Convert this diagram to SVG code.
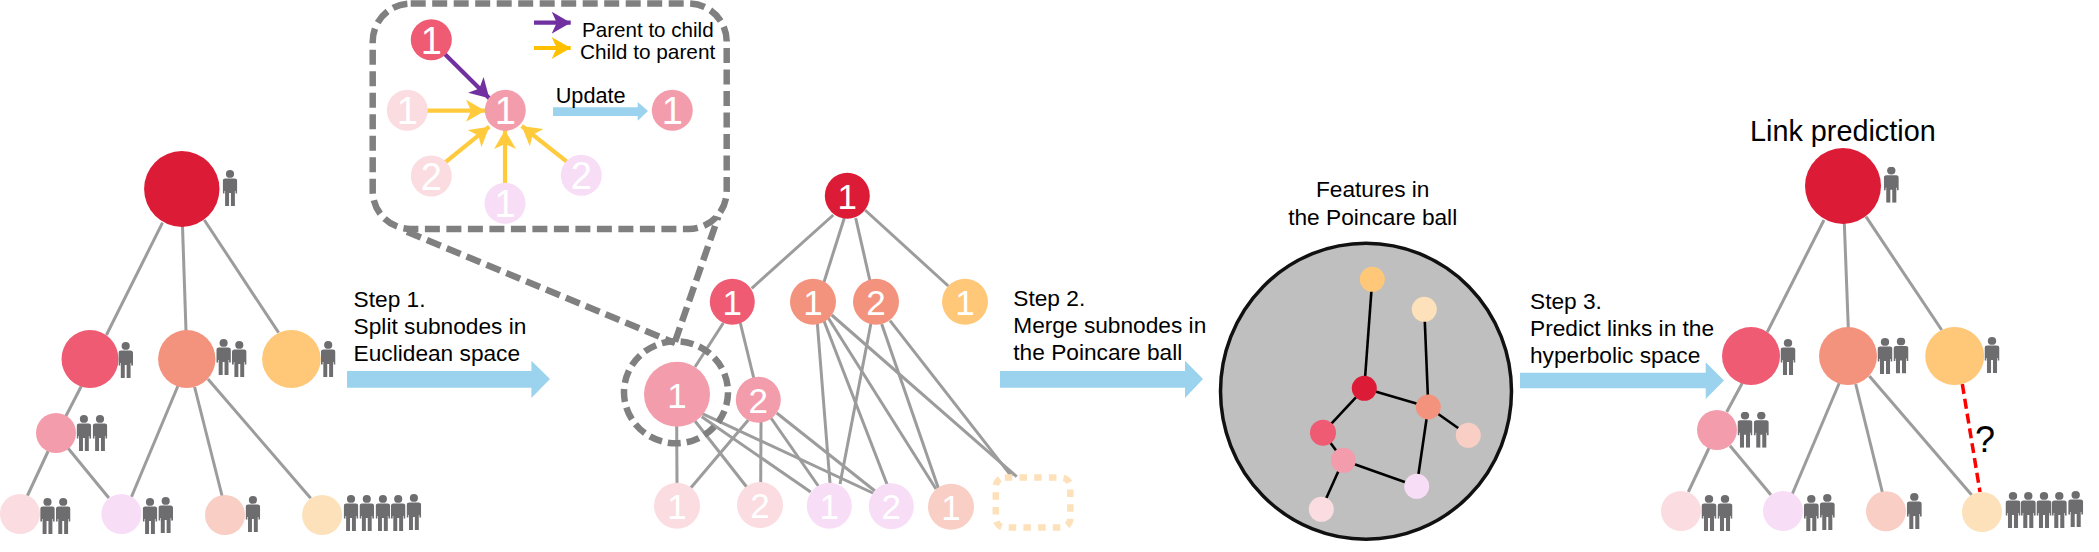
<svg xmlns="http://www.w3.org/2000/svg" width="2099" height="552" viewBox="0 0 2099 552">
<style>
text{font-family:"Liberation Sans",Arial,sans-serif;fill:#000}
.t{font-size:22.7px}
.d{fill:#fff;text-anchor:middle;font-size:35px}
.di{fill:#fff;text-anchor:middle;font-size:38px}
.e line{stroke:#9c9c9c;stroke-width:3}
.b line{stroke:#000;stroke-width:2.6}
.g{stroke:#FFCB3D;stroke-width:4.2;fill:none}
.dash{stroke:#808080;stroke-width:6.5;fill:none;stroke-dasharray:15 6.5}
.a{fill:#9BD3EE}
.c1{fill:#DC1C36}.c2{fill:#EE5B73}.c3{fill:#F4937D}.c4{fill:#FFC778}.c5{fill:#F39DAC}.c6{fill:#FBDDE1}.c7{fill:#F8DDF7}.c8{fill:#F9CEC4}.c9{fill:#FDE1BA}
</style>
<defs>
<symbol id="p" viewBox="0 0 14 36" preserveAspectRatio="none"><circle cx="7" cy="3.9" r="3.9" fill="#6D6D6F"/><path fill="#6D6D6F" d="M2.5 8.6h9q2.5 0 2.5 2.5v12.4h-1.7v-2.5h-.6v15h-3.8v-13h-1.8v13h-3.8v-15h-.6v2.5h-1.7v-12.4q0-2.5 2.5-2.5z"/></symbol>
<marker id="mp" markerUnits="userSpaceOnUse" markerWidth="20" markerHeight="22" refX="19" refY="11" orient="auto"><path d="M0 0L19 11L0 22L5 11z" fill="#7030A0"/></marker>
<marker id="my" markerUnits="userSpaceOnUse" markerWidth="20" markerHeight="22" refX="19" refY="11" orient="auto"><path d="M0 0L19 11L0 22L5 11z" fill="#FFC000"/></marker>
<marker id="mg" markerUnits="userSpaceOnUse" markerWidth="20" markerHeight="22" refX="19" refY="11" orient="auto"><path d="M0 0L19 11L0 22L5 11z" fill="#FFCB3D"/></marker>
</defs>

<g id="ball-disc"><ellipse cx="1366" cy="391.3" rx="145.5" ry="148" fill="#BFBFBF" stroke="#111" stroke-width="3.5"/></g>

<g id="connectors">
<g class="e">
<line x1="162.5" y1="222.7" x2="106.4" y2="335"/><line x1="182.5" y1="226" x2="186" y2="331"/><line x1="204.3" y1="220" x2="278.6" y2="332.7"/>
<line x1="81.4" y1="386" x2="65.4" y2="417"/><line x1="48.2" y1="451" x2="26.8" y2="497"/><line x1="67.9" y1="448" x2="108.9" y2="498"/>
<line x1="177.9" y1="386" x2="131.4" y2="497"/><line x1="194.6" y1="387" x2="222.1" y2="496"/><line x1="207.9" y1="379" x2="310.7" y2="498.3"/>

<line x1="833.3" y1="215" x2="751.7" y2="288.3"/><line x1="844.3" y1="218" x2="824" y2="282"/><line x1="855.7" y1="218" x2="870" y2="281"/><line x1="865" y1="210" x2="948.3" y2="286"/>
<line x1="723.3" y1="323" x2="695" y2="367"/><line x1="740.3" y1="323" x2="754" y2="379"/>
<line x1="676.7" y1="426" x2="677" y2="484"/><line x1="695" y1="421" x2="746.7" y2="487"/><line x1="701.7" y1="416.7" x2="810.7" y2="492"/><line x1="701.7" y1="413.3" x2="875" y2="494"/>
<line x1="748.3" y1="420" x2="690.7" y2="488"/><line x1="761" y1="422" x2="760.7" y2="483"/><line x1="771" y1="418" x2="818.3" y2="486"/><line x1="776.7" y1="413" x2="875" y2="491"/>
<line x1="817.3" y1="323" x2="830" y2="483"/><line x1="824" y1="321" x2="887.3" y2="485"/><line x1="828.3" y1="318" x2="936" y2="489"/><line x1="831.7" y1="315" x2="1016.7" y2="476.7"/>
<line x1="871" y1="323" x2="840" y2="484"/><line x1="881.7" y1="324" x2="938.3" y2="488"/><line x1="890" y1="320.7" x2="1011.7" y2="476.7"/>

<line x1="1824" y1="220" x2="1767.3" y2="332"/><line x1="1844.3" y1="223" x2="1848.3" y2="328"/><line x1="1866" y1="216.7" x2="1941.7" y2="330"/>
<line x1="1742.3" y1="383" x2="1726.7" y2="412"/><line x1="1709" y1="448" x2="1688.3" y2="492"/><line x1="1730" y1="445.7" x2="1771" y2="495"/>
<line x1="1839.3" y1="383" x2="1792.3" y2="494"/><line x1="1855.7" y1="384" x2="1882.3" y2="492"/><line x1="1869.3" y1="376" x2="1971.7" y2="495"/>
</g>
<line x1="1962.3" y1="384" x2="1980" y2="492" stroke="#F00" stroke-width="3.5" stroke-dasharray="10 5"/>
<g class="b">
<line x1="1372.3" y1="279" x2="1364.3" y2="388"/><line x1="1424.3" y1="309" x2="1428.3" y2="407"/><line x1="1364.3" y1="388.3" x2="1428.3" y2="407"/>
<line x1="1428.3" y1="407" x2="1468.3" y2="435.3"/><line x1="1364.3" y1="388.3" x2="1323" y2="432.7"/><line x1="1323" y1="432.7" x2="1343.3" y2="460.3"/>
<line x1="1343.3" y1="460.3" x2="1416.7" y2="486.3"/><line x1="1428.3" y1="407" x2="1416.7" y2="486.3"/><line x1="1343.3" y1="460.3" x2="1321.3" y2="509.3"/>
</g>
<path class="dash" d="M407 231.7L675 343"/>
<path class="dash" d="M675 341.7L718.3 216.7"/>
<rect class="dash" x="372.7" y="3.5" width="354" height="225.5" rx="38"/>
<ellipse class="dash" cx="676" cy="392.3" rx="52" ry="51" style="stroke-dasharray:13 6"/>
<path d="M444 53.3L489.3 98.3" stroke="#7030A0" stroke-width="4.2" marker-end="url(#mp)"/>
<path class="g" d="M426 110.7H485" marker-end="url(#mg)"/>
<path class="g" d="M444 163.3L489.3 126.7" marker-end="url(#mg)"/>
<path class="g" d="M505 184V130" marker-end="url(#mg)"/>
<path class="g" d="M569 163.3L521.7 126" marker-end="url(#mg)"/>
<path d="M534 22.7H570.7" stroke="#7030A0" stroke-width="4.2" marker-end="url(#mp)"/>
<path d="M534 48H570.7" stroke="#FFC000" stroke-width="4.2" marker-end="url(#my)"/>
<path class="a" d="M553 107.3H637.7V102L648 111L637.7 120.7V116H553z"/>
<path class="a" d="M347 371H531.4V360.7L550 379L531.4 398V387.7H347z"/>
<path class="a" d="M1000 371H1185V360.7L1203 379L1185 398V387.7H1000z"/>
<path class="a" d="M1520 372.7H1705.7V362.3L1724 380.5L1705.7 399V388.3H1520z"/>
</g>

<g id="labels">
<text class="t" x="353.6" y="307">Step 1.</text>
<text class="t" x="353.6" y="334">Split subnodes in</text>
<text class="t" x="353.6" y="361">Euclidean space</text>
<text class="t" x="1013.3" y="305.7">Step 2.</text>
<text class="t" x="1013.3" y="333.3">Merge subnodes in</text>
<text class="t" x="1013.3" y="360">the Poincare ball</text>
<text class="t" x="1530" y="309">Step 3.</text>
<text class="t" x="1530" y="336">Predict links in the</text>
<text class="t" x="1530" y="363">hyperbolic space</text>
<text class="t" x="1372.7" y="197.3" text-anchor="middle">Features in</text>
<text class="t" x="1372.7" y="225" text-anchor="middle">the Poincare ball</text>
<text x="1750" y="140.7" font-size="28.8">Link prediction</text>
<text x="1975" y="451.7" font-size="36">?</text>
<text x="582" y="36.7" font-size="20.6">Parent to child</text>
<text x="580" y="58.7" font-size="20.8">Child to parent</text>
<text x="555.7" y="102.7" font-size="21.7">Update</text>
</g>

<g id="tree-left">
<g id="l-root"><ellipse class="c1" cx="181.8" cy="189" rx="37.7" ry="38"/><use href="#p" x="222.7" y="170" width="14.6" height="36"/></g>
<g id="l-a"><ellipse class="c2" cx="90" cy="359" rx="28.5" ry="29"/><use href="#p" x="118.4" y="342" width="14.6" height="36"/></g>
<g id="l-b"><ellipse class="c3" cx="186.8" cy="359" rx="28.7" ry="29"/><use href="#p" x="216.3" y="339" width="14.6" height="36"/><use href="#p" x="232" y="341" width="14.6" height="36"/></g>
<g id="l-c"><ellipse class="c4" cx="291.4" cy="359" rx="29.3" ry="29"/><use href="#p" x="320.9" y="341" width="14.6" height="36"/></g>
<g id="l-d"><circle class="c5" cx="56" cy="433" r="20"/><use href="#p" x="76.6" y="415" width="14.6" height="36"/><use href="#p" x="92.7" y="415" width="14.6" height="36"/></g>
<g id="l-e"><circle class="c6" cx="20" cy="514" r="20"/><use href="#p" x="40.2" y="498" width="14.6" height="36"/><use href="#p" x="55.9" y="498" width="14.6" height="36"/></g>
<g id="l-f"><circle class="c7" cx="121.4" cy="514" r="20"/><use href="#p" x="142.7" y="498" width="14.6" height="36"/><use href="#p" x="158.4" y="497" width="14.6" height="36"/></g>
<g id="l-g"><circle class="c8" cx="225" cy="515" r="20"/><use href="#p" x="245.6" y="496" width="14.6" height="36"/></g>
<g id="l-h"><circle class="c9" cx="322.1" cy="515" r="20"/><use href="#p" x="343.7" y="495" width="14.6" height="36"/><use href="#p" x="359.5" y="495" width="14.6" height="36"/><use href="#p" x="375.6" y="495" width="14.6" height="36"/><use href="#p" x="390.9" y="495" width="14.6" height="36"/><use href="#p" x="406.6" y="494" width="14.6" height="36"/></g>
</g>

<g id="inset">
<g id="i-parent"><circle class="c2" cx="431.3" cy="39.7" r="20.5"/><text class="di" x="431.3" y="53.5">1</text></g>
<g id="i-center"><circle class="c5" cx="505.3" cy="110.3" r="20.5"/><text class="di" x="505.3" y="124">1</text></g>
<g id="i-left"><circle class="c6" cx="407.3" cy="110.3" r="20.5"/><text class="di" x="407.3" y="124">1</text></g>
<g id="i-ll"><circle class="c6" cx="431.3" cy="176" r="20.5"/><text class="di" x="431.3" y="189.5">2</text></g>
<g id="i-bottom"><circle class="c7" cx="505" cy="203.3" r="20.5"/><text class="di" x="505" y="217">1</text></g>
<g id="i-lr"><circle class="c7" cx="581.3" cy="175.3" r="20.5"/><text class="di" x="581.3" y="189">2</text></g>
<g id="i-updated"><circle class="c5" cx="672.3" cy="110.3" r="20.5"/><text class="di" x="672.3" y="124">1</text></g>
</g>

<g id="tree-split">
<g id="s-root"><ellipse class="c1" cx="847.3" cy="195.7" rx="22.5" ry="23"/><text class="d" x="847.3" y="208.5">1</text></g>
<g id="s-a1"><ellipse class="c2" cx="732.3" cy="301.7" rx="22.5" ry="23"/><text class="d" x="732.3" y="314.5">1</text></g>
<g id="s-b1"><circle class="c3" cx="813" cy="301.7" r="23"/><text class="d" x="813" y="314.5">1</text></g>
<g id="s-b2"><circle class="c3" cx="876" cy="301.7" r="23"/><text class="d" x="876" y="314.5">2</text></g>
<g id="s-c1"><circle class="c4" cx="965" cy="301.7" r="23"/><text class="d" x="965" y="314.5">1</text></g>
<g id="s-d1"><ellipse class="c5" cx="677" cy="394.3" rx="33" ry="32.5"/><text class="d" x="677" y="407.5">1</text></g>
<g id="s-d2"><ellipse class="c5" cx="758.3" cy="399.7" rx="22.5" ry="23"/><text class="d" x="758.3" y="412.5">2</text></g>
<g id="s-e1"><circle class="c6" cx="677" cy="505.7" r="23"/><text class="d" x="677" y="518.5">1</text></g>
<g id="s-e2"><circle class="c6" cx="760" cy="505" r="23"/><text class="d" x="760" y="518">2</text></g>
<g id="s-f1"><ellipse class="c7" cx="829.3" cy="505.7" rx="22.5" ry="23"/><text class="d" x="829.3" y="518.5">1</text></g>
<g id="s-f2"><ellipse class="c7" cx="891.3" cy="506.3" rx="22.5" ry="23"/><text class="d" x="891.3" y="519">2</text></g>
<g id="s-g1"><circle class="c8" cx="951" cy="506.7" r="23"/><text class="d" x="951" y="519.5">1</text></g>
<g id="s-h"><rect x="995.8" y="477.5" width="74.5" height="50" rx="9" fill="none" stroke="#FDE1BA" stroke-width="6.5" stroke-dasharray="7.5 7.2"/></g>
</g>

<g id="ball-nodes">
<circle id="b1" class="c4" cx="1372.3" cy="279.3" r="12.5"/>
<circle id="b2" class="c9" cx="1424.3" cy="309.3" r="12.5"/>
<circle id="b3" class="c1" cx="1364.3" cy="388.3" r="12.5"/>
<circle id="b4" class="c3" cx="1428.3" cy="407" r="12.5"/>
<circle id="b5" class="c8" cx="1468.3" cy="435.3" r="12.5"/>
<circle id="b6" class="c2" cx="1323" cy="432.7" r="13"/>
<circle id="b7" class="c5" cx="1343.3" cy="460.3" r="12.5"/>
<circle id="b8" class="c7" cx="1416.7" cy="486.3" r="12.5"/>
<circle id="b9" class="c6" cx="1321.3" cy="509.3" r="12.5"/>
</g>

<g id="tree-right">
<g id="r-root"><circle class="c1" cx="1843" cy="186" r="38"/><use href="#p" x="1883.8" y="166.7" width="15" height="36"/></g>
<g id="r-a"><circle class="c2" cx="1751" cy="356" r="29"/><use href="#p" x="1780.5" y="339" width="15" height="36"/></g>
<g id="r-b"><circle class="c3" cx="1848" cy="356" r="29"/><use href="#p" x="1877.5" y="338" width="15" height="36"/><use href="#p" x="1893.5" y="337.5" width="15" height="36"/></g>
<g id="r-c"><ellipse class="c4" cx="1954.7" cy="356" rx="29.5" ry="29"/><use href="#p" x="1984.5" y="337" width="15" height="36"/></g>
<g id="r-d"><circle class="c5" cx="1717" cy="430" r="20"/><use href="#p" x="1737.5" y="411.7" width="15" height="36"/><use href="#p" x="1753.8" y="411.7" width="15" height="36"/></g>
<g id="r-e"><circle class="c6" cx="1681" cy="511" r="20"/><use href="#p" x="1701.5" y="495" width="15" height="36"/><use href="#p" x="1717.5" y="495" width="15" height="36"/></g>
<g id="r-f"><circle class="c7" cx="1783" cy="511" r="20"/><use href="#p" x="1803.8" y="495" width="15" height="36"/><use href="#p" x="1819.8" y="494" width="15" height="36"/></g>
<g id="r-g"><circle class="c8" cx="1886" cy="511.3" r="20"/><use href="#p" x="1906.8" y="493" width="15" height="36"/></g>
<g id="r-h"><circle class="c9" cx="1982" cy="512" r="20"/><use href="#p" x="2005.5" y="492" width="15" height="36"/><use href="#p" x="2020.8" y="492" width="15" height="36"/><use href="#p" x="2036.5" y="492" width="15" height="36"/><use href="#p" x="2051.8" y="492" width="15" height="36"/><use href="#p" x="2068.2" y="491" width="15" height="36"/></g>
</g>
</svg>
